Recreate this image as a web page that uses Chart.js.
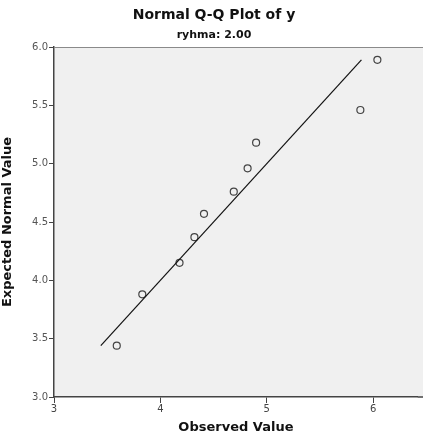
<!DOCTYPE html>
<html lang="en">
<head>
    <meta charset="UTF-8">
    <title>Normal Q-Q Plot of y</title>
    <script src="https://cdn.jsdelivr.net/npm/chart.js"></script>
    <style>
        html, body { margin: 0; padding: 0; background: #fff; }
        #wrap { width: 423px; height: 435px; position: relative; }
    </style>
</head>
<body>
    <div id="wrap">
        <canvas id="qqChart" width="423" height="435"></canvas>
    </div>

    <script>
        // observed values and their expected normal values
        var observed = [3.59, 3.83, 4.18, 4.32, 4.41, 4.69, 4.82, 4.90, 5.88, 6.04];
        var expected = [3.44, 3.88, 4.15, 4.37, 4.57, 4.76, 4.96, 5.18, 5.46, 5.89];
        // reference line end points
        var lineX = [3.44, 5.89];
        var lineY = [3.44, 5.89];
        var xTicks = [3, 4, 5, 6];
        var yTicks = [3.0, 3.5, 4.0, 4.5, 5.0, 5.5, 6.0];

        var font = "'DejaVu Sans', sans-serif";

        // plot background runs to the right edge of the picture
        var titlesPlugin = {
            id: 'titles',
            beforeDraw: function(chart) {
                var ctx = chart.ctx, a = chart.chartArea;
                ctx.save();
                ctx.fillStyle = '#f0f0f0';
                ctx.fillRect(a.left, a.top, chart.width - a.left, a.bottom - a.top);
                ctx.restore();
            },
            afterDraw: function(chart) {
                var ctx = chart.ctx, a = chart.chartArea;
                ctx.save();
                ctx.strokeStyle = '#8a8a8a';
                ctx.lineWidth = 1;
                ctx.beginPath();
                ctx.moveTo(a.left, a.top + 0.5);
                ctx.lineTo(chart.width, a.top + 0.5);
                ctx.stroke();
                ctx.strokeStyle = '#444';
                ctx.lineWidth = 1.5;
                ctx.beginPath();
                ctx.moveTo(a.right, a.bottom);
                ctx.lineTo(chart.width, a.bottom);
                ctx.stroke();
                ctx.fillStyle = '#111';
                ctx.textAlign = 'center';
                ctx.textBaseline = 'middle';
                ctx.font = 'bold 14px ' + font;
                ctx.fillText('Normal Q-Q Plot of y', 214, 15);
                ctx.font = 'bold 11px ' + font;
                ctx.fillText('ryhma: 2.00', 214, 35);
                ctx.restore();
            }
        };

        var pts = observed.map(function(v, i) { return { x: v, y: expected[i] }; });
        var linePts = lineX.map(function(v, i) { return { x: v, y: lineY[i] }; });

        new Chart(document.getElementById('qqChart').getContext('2d'), {
            type: 'scatter',
            data: {
                datasets: [{
                    data: linePts,
                    showLine: true,
                    borderColor: '#111',
                    borderWidth: 1.2,
                    pointRadius: 0
                }, {
                    data: pts,
                    pointRadius: 3.5,
                    pointBorderWidth: 1.2,
                    pointBorderColor: '#444',
                    pointBackgroundColor: 'rgba(0,0,0,0)'
                }]
            },
            options: {
                responsive: false,
                animation: false,
                layout: { padding: { top: 47, right: 0, left: 0, bottom: 0 } },
                plugins: { legend: { display: false }, tooltip: { enabled: false } },
                scales: {
                    x: {
                        type: 'linear',
                        min: 3,
                        max: 6.42,
                        afterBuildTicks: function(axis) {
                            axis.ticks = xTicks.map(function(v) { return { value: v }; });
                        },
                        afterFit: function(scale) {
                            scale.height = 38;
                            scale.paddingRight = 0;
                            scale.paddingLeft = 0;
                        },
                        grid: { drawOnChartArea: false, tickLength: 6, color: '#444', tickWidth: 1 },
                        border: { color: '#444', width: 1.5 },
                        ticks: { color: '#444', font: { family: font, size: 10 }, padding: 0, maxRotation: 0 },
                        title: { display: true, text: 'Observed Value', color: '#111', font: { family: font, size: 13, weight: 'bold' }, padding: { top: 4, bottom: 0 } }
                    },
                    y: {
                        type: 'linear',
                        min: 3,
                        max: 6,
                        afterBuildTicks: function(axis) {
                            axis.ticks = yTicks.map(function(v) { return { value: v }; });
                        },
                        afterFit: function(scale) {
                            scale.width = 54;
                            scale.paddingTop = 0;
                            scale.paddingBottom = 0;
                        },
                        grid: { drawOnChartArea: false, tickLength: 5, color: '#444', tickWidth: 1 },
                        border: { color: '#444', width: 1.5 },
                        ticks: {
                            color: '#555',
                            font: { family: font, size: 10 },
                            padding: 1,
                            callback: function(v) { return v.toFixed(1); }
                        },
                        title: { display: true, text: 'Expected Normal Value', color: '#111', font: { family: font, size: 13, weight: 'bold' }, padding: { top: 0, bottom: 4 } }
                    }
                }
            },
            plugins: [titlesPlugin]
        });
    </script>
</body>
</html>
